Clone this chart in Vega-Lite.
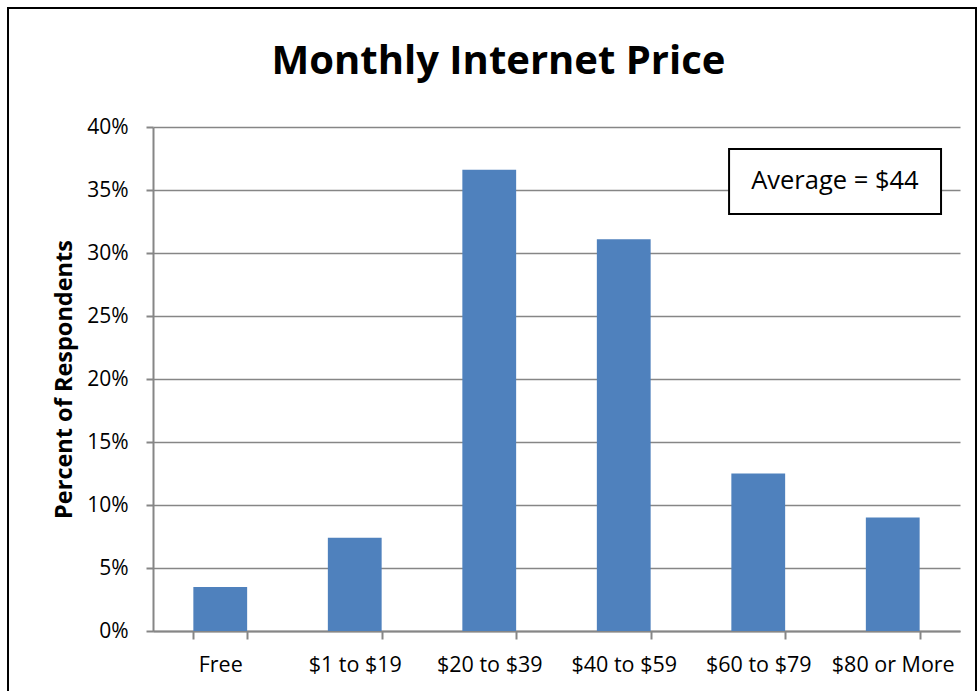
{
  "$schema": "https://vega.github.io/schema/vega-lite/v6.json",
  "width": 807,
  "height": 504,
  "autosize": {"type": "none"},
  "padding": {"left": 153, "top": 127, "right": 19, "bottom": 60},
  "background": "white",
  "config": {
    "font": "Open Sans",
    "view": {"stroke": null},
    "axis": {"labelFont": "Open Sans", "titleFont": "Open Sans", "labelColor": "black", "titleColor": "black"}
  },
  "title": {
    "text": "Monthly Internet Price",
    "font": "Open Sans",
    "fontSize": 40,
    "fontWeight": "bold",
    "color": "black",
    "anchor": "middle",
    "frame": "group",
    "baseline": "alphabetic",
    "offset": -107,
    "dx": -58
  },
  "resolve": {"scale": {"x": "independent"}},
  "layer": [
    {
      "data": {"values": [{"frame": "outer"}]},
      "mark": {"type": "rect", "fill": null, "stroke": "black", "strokeWidth": 2, "clip": false},
      "encoding": {
        "x": {"datum": -1.078, "type": "quantitative", "scale": {"domain": [0, 6], "nice": false, "zero": false}, "axis": null},
        "x2": {"datum": 6.119},
        "y": {"datum": 0.4944, "type": "quantitative", "scale": {"domain": [0, 0.4]}},
        "y2": {"datum": -0.1}
      }
    },
    {
      "data": {"values": [
        {"price": "Free", "percent": 0.035},
        {"price": "$1 to $19", "percent": 0.074},
        {"price": "$20 to $39", "percent": 0.366},
        {"price": "$40 to $59", "percent": 0.311},
        {"price": "$60 to $79", "percent": 0.125},
        {"price": "$80 or More", "percent": 0.090}
      ]},
      "mark": {"type": "bar", "color": "#4F81BD"},
      "encoding": {
        "x": {
          "field": "price", "type": "nominal", "sort": null,
          "scale": {"paddingInner": 0.6, "paddingOuter": 0.3},
          "axis": {
            "title": null, "labelAngle": 0, "labelFontSize": 21.5, "labelBaseline": "alphabetic",
            "labelPadding": 32, "tickSize": 8, "tickBand": "extent", "tickColor": "#868686", "tickWidth": 2,
            "domainColor": "#868686", "domainWidth": 2, "grid": false
          }
        },
        "y": {
          "field": "percent", "type": "quantitative",
          "scale": {"domain": [0, 0.4], "nice": false},
          "axis": {
            "title": "Percent of Respondents", "titleFontSize": 23.5, "titleFontWeight": "bold", "titlePadding": 10,
            "format": ".0%", "values": [0, 0.05, 0.1, 0.15, 0.2, 0.25, 0.3, 0.35, 0.4],
            "labelFontSize": 21, "labelPadding": 18, "tickSize": 7, "tickColor": "#868686", "tickWidth": 2,
            "domainColor": "#868686", "domainWidth": 2,
            "grid": true, "gridColor": "#868686", "gridWidth": 1.5
          }
        }
      }
    },
    {
      "data": {"values": [{"label": "Average = $44"}]},
      "layer": [
        {
          "mark": {"type": "rect", "fill": "white", "stroke": "black", "strokeWidth": 2},
          "encoding": {
            "x": {"datum": 4.283, "type": "quantitative", "scale": {"domain": [0, 6], "nice": false, "zero": false}, "axis": null},
            "x2": {"datum": 5.859},
            "y": {"datum": 0.3825, "type": "quantitative"},
            "y2": {"datum": 0.331}
          }
        },
        {
          "mark": {"type": "text", "font": "Open Sans", "fontSize": 25.5, "color": "black", "align": "center", "baseline": "middle"},
          "encoding": {
            "x": {"datum": 5.07, "type": "quantitative", "scale": {"domain": [0, 6], "nice": false, "zero": false}, "axis": null},
            "y": {"datum": 0.357, "type": "quantitative"},
            "text": {"field": "label"}
          }
        }
      ]
    }
  ]
}
